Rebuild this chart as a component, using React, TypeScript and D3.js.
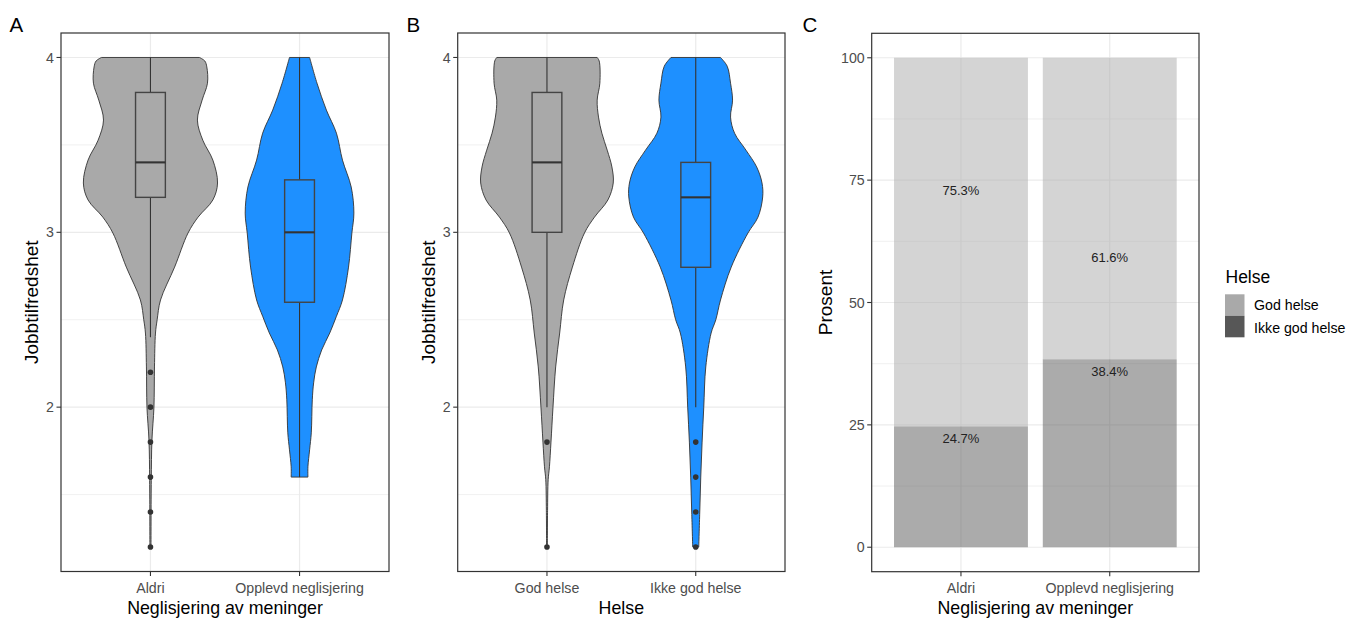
import React from 'react';
import * as d3 from 'd3';

// ---------- data ----------
const violinYTicks = [2, 3, 4];
const violinMinorTicks = [1.5, 2.5, 3.5];
const violinYDomain = [1.06, 4.14];

const catsA = ['Aldri', 'Opplevd neglisjering'];
const catsB = ['God helse', 'Ikke god helse'];
const catsC = ['Aldri', 'Opplevd neglisjering'];

// violin profiles: [value, relative density (1 = widest)]
const violinAAldri: [number, number][] = [
  [4.0, 0.73], [3.98, 0.81], [3.946, 0.84], [3.853, 0.85], [3.756, 0.77], [3.642, 0.70],
  [3.527, 0.78], [3.413, 0.93], [3.282, 1.0], [3.185, 0.93], [3.087, 0.71], [2.996, 0.56],
  [2.801, 0.36], [2.613, 0.15], [2.5, 0.10], [2.424, 0.075], [2.23, 0.06], [2.0, 0.052],
  [1.81, 0.022], [1.58, 0.012], [1.2, 0.008],
];
const violinAOpp: [number, number][] = [
  [4.0, 0.15], [3.853, 0.26], [3.699, 0.40], [3.567, 0.55], [3.413, 0.64], [3.259, 0.77],
  [3.11, 0.81], [2.996, 0.78], [2.801, 0.73], [2.613, 0.64], [2.52, 0.55], [2.424, 0.45],
  [2.327, 0.33], [2.23, 0.25], [2.139, 0.21], [2.042, 0.19], [1.853, 0.175], [1.756, 0.15],
  [1.659, 0.125], [1.6, 0.125],
];
const violinBGod: [number, number][] = [
  [4.0, 0.75], [3.98, 0.78], [3.853, 0.79], [3.756, 0.75], [3.659, 0.77], [3.567, 0.82],
  [3.47, 0.90], [3.374, 0.97], [3.282, 0.99], [3.185, 0.91], [3.087, 0.71], [2.996, 0.56],
  [2.801, 0.38], [2.613, 0.25], [2.424, 0.19], [2.23, 0.13], [2.0, 0.09], [1.8, 0.06],
  [1.659, 0.037], [1.585, 0.018], [1.41, 0.009], [1.2, 0.006],
];
const violinBIkke: [number, number][] = [
  [4.0, 0.37], [3.95, 0.47], [3.853, 0.52], [3.756, 0.55], [3.659, 0.52], [3.567, 0.58],
  [3.47, 0.75], [3.374, 0.91], [3.282, 0.99], [3.202, 1.0], [3.087, 0.93], [2.996, 0.78],
  [2.801, 0.53], [2.613, 0.37], [2.5, 0.30], [2.424, 0.23], [2.23, 0.15], [2.0, 0.12],
  [1.8, 0.095], [1.6, 0.075], [1.4, 0.06], [1.2, 0.045],
];

// box stats: [lower whisker, Q1, median, Q3, upper whisker]
const boxAAldri = [2.4, 3.2, 3.4, 3.8, 4.0];
const boxAOpp = [1.6, 2.6, 3.0, 3.3, 4.0];
const boxBGod = [2.0, 3.0, 3.4, 3.8, 4.0];
const boxBIkke = [2.0, 2.8, 3.2, 3.4, 4.0];

const outAAldri = [2.2, 2.0, 1.8, 1.6, 1.4, 1.2];
const outAOpp: number[] = [];
const outBGod = [1.8, 1.2];
const outBIkke = [1.8, 1.6, 1.4, 1.2];

// panel C
const helseLevels = ['God helse', 'Ikke god helse'];
const pctGod = [75.3, 61.6];
const pctIkke = [24.7, 38.4];
const pctTicks = [0, 25, 50, 75, 100];
const pctMinor = [12.5, 37.5, 62.5, 87.5];
const pctDomain = [-5, 105];

// ---------- style ----------
const FONT = '"Liberation Sans", Arial, Helvetica, sans-serif';
const GRID = '#ebebeb';
const BORDER = '#333333';
const TICKTXT = '#4d4d4d';
const GRAY = '#a9a9a9';
const BLUE = '#1e90ff';
const LEG_GOD = '#a9a9a9';
const LEG_IKKE = '#575757';

type Panel = { left: number; right: number; top: number; bottom: number };

const PA: Panel = { left: 61, right: 389, top: 33, bottom: 571.5 };
const PB: Panel = { left: 457.7, right: 785, top: 33, bottom: 571.5 };
const PC: Panel = { left: 871.7, right: 1199, top: 33.3, bottom: 571.7 };

const TICK_LEN = 4.5;

function Frame({ p, x, y, yTicks, yMinor, cats, yLabel, xLabel, tag, yTitleX, yFmt }: any) {
  const cx = (p.left + p.right) / 2;
  const cy = (p.top + p.bottom) / 2;
  return (
    <g>
      {yMinor.map((t: number) => (
        <line key={'mi' + t} x1={p.left} x2={p.right} y1={y(t)} y2={y(t)} stroke={GRID} strokeWidth={0.7} />
      ))}
      {yTicks.map((t: number) => (
        <line key={'ma' + t} x1={p.left} x2={p.right} y1={y(t)} y2={y(t)} stroke={GRID} strokeWidth={1.2} />
      ))}
      {cats.map((c: string, i: number) => (
        <line key={'vx' + c} x1={x(i + 1)} x2={x(i + 1)} y1={p.top} y2={p.bottom} stroke={GRID} strokeWidth={1.2} />
      ))}
      {yTicks.map((t: number) => (
        <g key={'yt' + t}>
          <line x1={p.left - TICK_LEN} x2={p.left} y1={y(t)} y2={y(t)} stroke={BORDER} strokeWidth={1.1} />
          <text x={p.left - TICK_LEN - 2.5} y={y(t)} dy="0.36em" textAnchor="end" fontSize={14.2} fill={TICKTXT} fontFamily={FONT}>
            {yFmt ? yFmt(t) : t}
          </text>
        </g>
      ))}
      {cats.map((c: string, i: number) => (
        <g key={'xt' + c}>
          <line x1={x(i + 1)} x2={x(i + 1)} y1={p.bottom} y2={p.bottom + TICK_LEN} stroke={BORDER} strokeWidth={1.1} />
          <text x={x(i + 1)} y={593} textAnchor="middle" fontSize={14.2} fill={TICKTXT} fontFamily={FONT}>
            {c}
          </text>
        </g>
      ))}
      <text x={cx} y={614} textAnchor="middle" fontSize={17.8} fill="#000" fontFamily={FONT}>
        {xLabel}
      </text>
      <text
        transform={`translate(${yTitleX},${cy}) rotate(-90)`}
        textAnchor="middle"
        fontSize={19}
        fill="#000"
        fontFamily={FONT}
      >
        {yLabel}
      </text>
      <text x={tag.x} y={31.5} fontSize={20.5} fill="#000" fontFamily={FONT}>
        {tag.t}
      </text>
    </g>
  );
}

function Border({ p }: { p: Panel }) {
  return (
    <rect x={p.left} y={p.top} width={p.right - p.left} height={p.bottom - p.top} fill="none" stroke={BORDER} strokeWidth={1.2} />
  );
}

function ViolinBox({ data, box, out, cx, unit, y, fill }: any) {
  const hwMax = 0.45 * unit;
  const area = d3
    .area<[number, number]>()
    .y((d) => y(d[0]))
    .x0((d) => cx - d[1] * hwMax)
    .x1((d) => cx + d[1] * hwMax)
    .curve(d3.curveCatmullRom.alpha(0.5));
  const bw = 0.2 * unit;
  const [lo, q1, med, q3, hi] = box;
  return (
    <g>
      <path d={area(data) || ''} fill={fill} stroke="#333" strokeWidth={0.9} />
      <line x1={cx} x2={cx} y1={y(hi)} y2={y(q3)} stroke="#333" strokeWidth={1.1} />
      <line x1={cx} x2={cx} y1={y(q1)} y2={y(lo)} stroke="#333" strokeWidth={1.1} />
      <rect x={cx - bw / 2} y={y(q3)} width={bw} height={y(q1) - y(q3)} fill={fill} stroke="#444" strokeWidth={1.4} />
      <line x1={cx - bw / 2} x2={cx + bw / 2} y1={y(med)} y2={y(med)} stroke="#333" strokeWidth={2.1} />
      {out.map((o: number, i: number) => (
        <circle key={i} cx={cx} cy={y(o)} r={2.8} fill="#333" />
      ))}
    </g>
  );
}

export default function App() {
  const xA = d3.scaleLinear().domain([0.4, 2.6]).range([PA.left, PA.right]);
  const xB = d3.scaleLinear().domain([0.4, 2.6]).range([PB.left, PB.right]);
  const xC = d3.scaleLinear().domain([0.4, 2.6]).range([PC.left, PC.right]);
  const yA = d3.scaleLinear().domain(violinYDomain).range([PA.bottom, PA.top]);
  const yB = d3.scaleLinear().domain(violinYDomain).range([PB.bottom, PB.top]);
  const yC = d3.scaleLinear().domain(pctDomain).range([PC.bottom, PC.top]);
  const unitA = xA(2) - xA(1);
  const unitB = xB(2) - xB(1);
  const unitC = xC(2) - xC(1);

  const stackRows = catsC.map((c, i) => ({ cat: c, 'Ikke god helse': pctIkke[i], 'God helse': pctGod[i] }));
  const stack = d3.stack<any>().keys(['Ikke god helse', 'God helse'])(stackRows);
  const fills: Record<string, string> = { 'God helse': LEG_GOD, 'Ikke god helse': LEG_IKKE };
  const legFill = [LEG_GOD, LEG_IKKE];

  return (
    <svg width={1360} height={618} style={{ position: 'absolute', left: 0, top: 0, display: 'block', background: '#fff' }}>
      <rect x={0} y={0} width={1360} height={618} fill="#fff" />
      {/* Panel A */}
      <Frame p={PA} x={xA} y={yA} yTicks={violinYTicks} yMinor={violinMinorTicks} cats={catsA}
        yLabel="Jobbtilfredshet" xLabel="Neglisjering av meninger" tag={{ x: 9.5, t: 'A' }} yTitleX={38} />
      <ViolinBox data={violinAAldri} box={boxAAldri} out={outAAldri} cx={xA(1)} unit={unitA} y={yA} fill={GRAY} />
      <ViolinBox data={violinAOpp} box={boxAOpp} out={outAOpp} cx={xA(2)} unit={unitA} y={yA} fill={BLUE} />
      <Border p={PA} />

      {/* Panel B */}
      <Frame p={PB} x={xB} y={yB} yTicks={violinYTicks} yMinor={violinMinorTicks} cats={catsB}
        yLabel="Jobbtilfredshet" xLabel="Helse" tag={{ x: 406.5, t: 'B' }} yTitleX={434.5} />
      <ViolinBox data={violinBGod} box={boxBGod} out={outBGod} cx={xB(1)} unit={unitB} y={yB} fill={GRAY} />
      <ViolinBox data={violinBIkke} box={boxBIkke} out={outBIkke} cx={xB(2)} unit={unitB} y={yB} fill={BLUE} />
      <Border p={PB} />

      {/* Panel C */}
      <Frame p={PC} x={xC} y={yC} yTicks={pctTicks} yMinor={pctMinor} cats={catsC}
        yLabel="Prosent" xLabel="Neglisjering av meninger" tag={{ x: 802.5, t: 'C' }} yTitleX={831.5} />
      {stack.map((layer) => (
        <g key={layer.key}>
          {layer.map((seg: any, i: number) => (
            <rect key={i} x={xC(i + 1) - 0.45 * unitC} width={0.9 * unitC} y={yC(seg[1])} height={yC(seg[0]) - yC(seg[1])}
              fill={fills[layer.key as string]} fillOpacity={0.5} />
          ))}
        </g>
      ))}
      {catsC.map((c, i) => (
        <g key={'lab' + c}>
          <text x={xC(i + 1)} y={yC(pctGod[i]) + 16.5} textAnchor="middle" fontSize={13} fill="#222" fontFamily={FONT}>
            {pctGod[i].toFixed(1)}%
          </text>
          <text x={xC(i + 1)} y={yC(pctIkke[i]) + 16.5} textAnchor="middle" fontSize={13} fill="#222" fontFamily={FONT}>
            {pctIkke[i].toFixed(1)}%
          </text>
        </g>
      ))}
      <Border p={PC} />

      {/* Legend */}
      <text x={1225.5} y={283.3} fontSize={17.5} fill="#000" fontFamily={FONT}>Helse</text>
      {helseLevels.map((h, i) => (
        <g key={h}>
          <rect x={1225} y={294.3 + i * 21.5} width={19.5} height={21.5} fill={legFill[i]} />
          <text x={1254} y={310 + i * 22.5} fontSize={14.2} fill="#000" fontFamily={FONT}>{h}</text>
        </g>
      ))}
    </svg>
  );
}
